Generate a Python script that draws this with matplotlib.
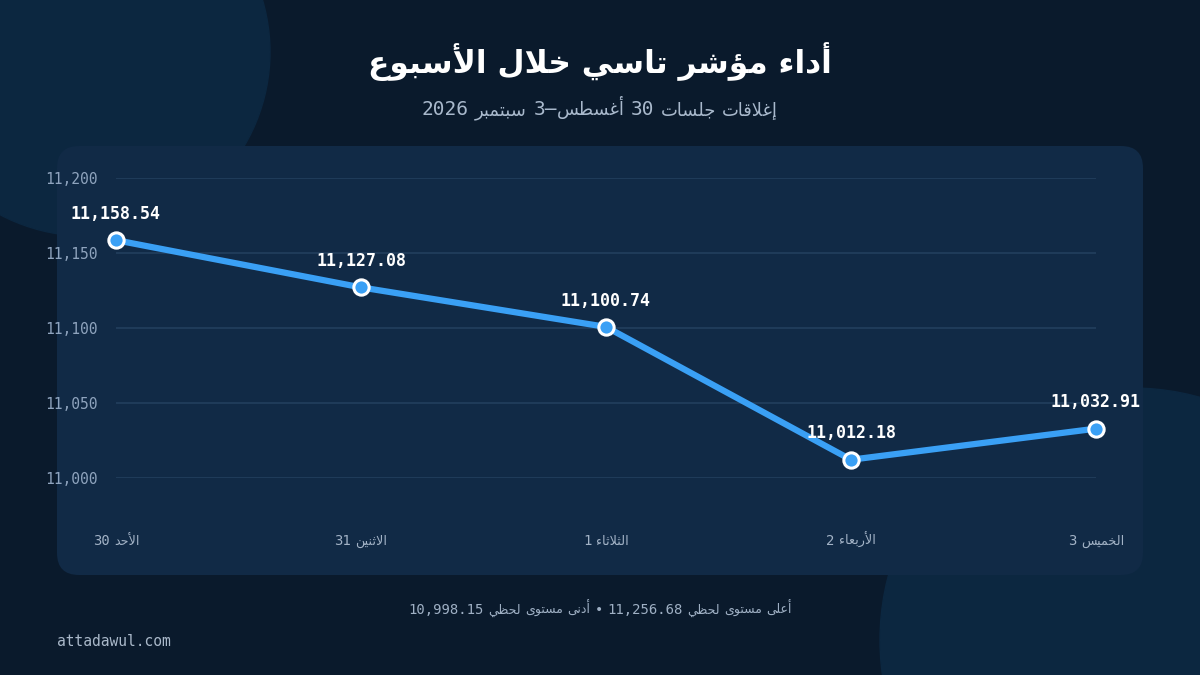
import matplotlib
matplotlib.use("Agg")
import matplotlib.pyplot as plt
from matplotlib.patches import FancyBboxPatch, Circle

# ---------------- data ----------------
days = ["الأحد 30", "الاثنين 31", "الثلاثاء 1", "الأربعاء 2", "الخميس 3"]
closes = [11158.54, 11127.08, 11100.74, 11012.18, 11032.91]
yticks = [11000, 11050, 11100, 11150, 11200]
title = "أداء مؤشر تاسي خلال الأسبوع"
subtitle = "إغلاقات جلسات 30 أغسطس–3 سبتمبر 2026"
intraday_high = 11256.68
intraday_low = 10998.15
footer = f"أعلى مستوى لحظي {intraday_high:,.2f} • أدنى مستوى لحظي {intraday_low:,.2f}"
source = "attadawul.com"

# ---------------- Arabic shaping (presentation forms) + simple RTL ordering ----------------
ONE = {0x621: 0xFE80}
TWO = {0x622: 0xFE81, 0x623: 0xFE83, 0x624: 0xFE85, 0x625: 0xFE87, 0x627: 0xFE8D,
       0x629: 0xFE93, 0x62F: 0xFEA9, 0x630: 0xFEAB, 0x631: 0xFEAD, 0x632: 0xFEAF,
       0x648: 0xFEED, 0x649: 0xFEEF}
FOUR = {0x626: 0xFE89, 0x628: 0xFE8F, 0x62A: 0xFE95, 0x62B: 0xFE99, 0x62C: 0xFE9D,
        0x62D: 0xFEA1, 0x62E: 0xFEA5, 0x633: 0xFEB1, 0x634: 0xFEB5, 0x635: 0xFEB9,
        0x636: 0xFEBD, 0x637: 0xFEC1, 0x638: 0xFEC5, 0x639: 0xFEC9, 0x63A: 0xFECD,
        0x641: 0xFED1, 0x642: 0xFED5, 0x643: 0xFED9, 0x644: 0xFEDD, 0x645: 0xFEE1,
        0x646: 0xFEE5, 0x647: 0xFEE9, 0x64A: 0xFEF1}
LAMALEF = {0x622: 0xFEF5, 0x623: 0xFEF7, 0x625: 0xFEF9, 0x627: 0xFEFB}


def shape(s):
    items = []
    i = 0
    while i < len(s):
        c = s[i]
        if ord(c) == 0x644 and i + 1 < len(s) and ord(s[i + 1]) in LAMALEF:
            items.append(("LA", ord(s[i + 1])))
            i += 2
        else:
            items.append(("C", c))
            i += 1

    def jt(it):
        k, v = it
        if k == "LA":
            return "R"
        o = ord(v)
        if o in FOUR:
            return "D"
        if o in TWO:
            return "R"
        if o in ONE:
            return "U"
        return None

    out = []
    n = len(items)
    for idx, it in enumerate(items):
        t = jt(it)
        if t is None:
            out.append(it[1])
            continue
        if t == "U":
            out.append(chr(ONE[ord(it[1])]))
            continue
        pj = idx > 0 and jt(items[idx - 1]) == "D"
        nj = t == "D" and idx + 1 < n and jt(items[idx + 1]) in ("D", "R")
        if it[0] == "LA":
            b = LAMALEF[it[1]]
            out.append(chr(b + 1 if pj else b))
        elif t == "R":
            b = TWO[ord(it[1])]
            out.append(chr(b + 1 if pj else b))
        else:
            b = FOUR[ord(it[1])]
            if pj and nj:
                o = b + 3
            elif pj:
                o = b + 1
            elif nj:
                o = b + 2
            else:
                o = b
            out.append(chr(o))
    return "".join(out)


def ar(s):
    s = shape(s)
    units = []
    i = 0
    isl = lambda ch: ch.isascii() and ch.isalnum()
    while i < len(s):
        c = s[i]
        if isl(c):
            j = i + 1
            while j < len(s) and (isl(s[j]) or (s[j] in ",." and j + 1 < len(s) and isl(s[j + 1]))):
                j += 1
            units.append(s[i:j])
            i = j
        else:
            units.append(c)
            i += 1
    return "".join(reversed(units))


def is_ar(ch):
    o = ord(ch)
    return 0x0600 <= o <= 0x06FF or 0xFB50 <= o <= 0xFEFF


# ---------------- style ----------------
BG = "#0a1a2c"
DECO = "#0c2740"
CARD = "#112a46"
GRID = "#213d5c"
LINE = "#3aa0f5"
MONO = "DejaVu Sans Mono"
SANS = "DejaVu Sans"

W, H = 1200, 675
fig = plt.figure(figsize=(12, 6.75), dpi=100, facecolor=BG)
renderer = fig.canvas.get_renderer()

# background layer in pixel coordinates
bg = fig.add_axes([0, 0, 1, 1])
bg.set_xlim(0, W)
bg.set_ylim(H, 0)
bg.axis("off")
bg.set_facecolor(BG)
bg.add_patch(Circle((86, 52), 184, color=DECO, zorder=0))
bg.add_patch(Circle((1132, 640), 252, color=DECO, zorder=0))
bg.add_patch(FancyBboxPatch((57 + 22, 146 + 22), 1086 - 44, 429 - 44,
                            boxstyle="round,pad=22", facecolor=CARD, edgecolor="none", zorder=1))


def mixed_text(x, y, s, size, color, ar_scale=0.95, ha="center"):
    """Draw RTL text mixing a proportional Arabic face and a mono face for digits (y = baseline px)."""
    vis = ar(s)
    runs = []
    for ch in vis:
        kind = "ar" if is_ar(ch) else ("sp" if ch == " " else "lt")
        if runs and runs[-1][0] == kind and kind != "sp":
            runs[-1][1] += ch
        else:
            runs.append([kind, ch])
    sp_w = size * 0.32 * 100 / 72
    objs, widths = [], []
    for kind, txt in runs:
        if kind == "sp":
            objs.append(None)
            widths.append(sp_w)
            continue
        fam = SANS if kind == "ar" else MONO
        fs = size * ar_scale if kind == "ar" else size
        t = bg.text(0, y, txt, fontsize=fs, color=color, family=fam, ha="left",
                    va="baseline", zorder=3)
        objs.append(t)
        widths.append(t.get_window_extent(renderer).width)
    total = sum(widths)
    cur = x - total / 2 if ha == "center" else x
    for t, w in zip(objs, widths):
        if t is not None:
            t.set_x(cur)
        cur += w


# title and texts
bg.text(600, 62, ar(title), ha="center", va="center", fontsize=22.5, fontweight="bold",
        color="white", family=SANS, zorder=3)
mixed_text(600, 115, subtitle, 14, "#a9b9cc", ar_scale=0.92)
mixed_text(600, 614, footer, 10, "#9fb0c4", ar_scale=0.9)
bg.text(57, 642, source, ha="left", va="center", fontsize=10.5,
        color="#a9b8c9", family=MONO, zorder=3)

# plot axes: x 116..1096 px, y 178..478 px
ax = fig.add_axes([116 / W, 1 - 478 / H, (1096 - 116) / W, 300 / H])
ax.set_facecolor("none")
x = list(range(len(days)))
ax.plot(x, closes, color=LINE, lw=4.5, solid_capstyle="round", zorder=3, clip_on=False)
ax.plot(x, closes, linestyle="none", marker="o", markersize=11, markerfacecolor=LINE,
        markeredgecolor="white", markeredgewidth=2.2, zorder=4, clip_on=False)
for xi, v in zip(x, closes):
    ax.annotate(f"{v:,.2f}", (xi, v), xytext=(0, 19), textcoords="offset points",
                ha="center", va="center", fontsize=12, fontweight="bold", color="white",
                family=MONO, zorder=5, annotation_clip=False)

ax.set_xlim(0, len(days) - 1)
ax.set_ylim(yticks[0], yticks[-1])
ax.set_yticks(yticks)
ax.set_yticklabels([f"{t:,}" for t in yticks], family=MONO, fontsize=10.5, color="#8fa4be")
ax.set_xticks(x)
ax.set_xticklabels([])
ax.tick_params(axis="y", length=0, pad=13)
ax.tick_params(axis="x", length=0)
ax.grid(axis="y", color=GRID, lw=1.3, zorder=0)
ax.grid(axis="x", visible=False)
for sp in ax.spines.values():
    sp.set_visible(False)

# day labels under each point, positioned through the axes' x scale
to_px = bg.transData.inverted()
for xi, d in zip(x, days):
    px = to_px.transform(ax.transData.transform((xi, yticks[0])))[0]
    mixed_text(px, 545, d, 10, "#a3b3c6", ar_scale=0.92)

fig.savefig("out.png", dpi=100, facecolor=BG)
